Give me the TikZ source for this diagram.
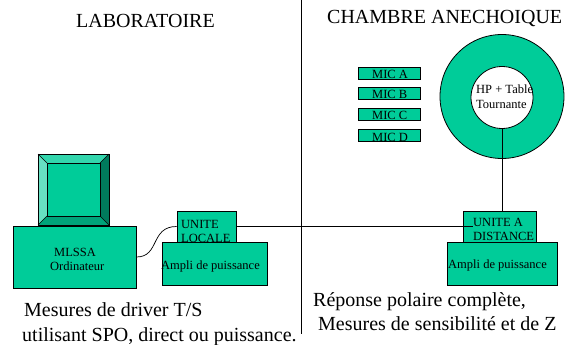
\documentclass[tikz,border=0pt]{standalone}
\usepackage{fontspec}
\setmainfont{Liberation Serif}
\definecolor{vert}{RGB}{0,204,153}
\definecolor{vertclair}{RGB}{102,224,194}
\definecolor{vertmoyen}{RGB}{51,214,173}
\definecolor{vertsombre}{RGB}{0,122,92}
\definecolor{vertbas}{RGB}{0,163,122}
\tikzset{
  boite/.style={draw, fill=vert, inner sep=0pt, line width=0.8pt},
  grand/.style={font=\fontsize{20}{24}\selectfont, inner sep=0pt, anchor=base west},
  petit/.style={font=\fontsize{12.5}{14}\selectfont, inner sep=0pt, anchor=base west},
  fil/.style={line width=0.7pt}
}
\begin{document}
\begin{tikzpicture}[x=1pt, y=-1pt]
\useasboundingbox (0,0) rectangle (568,345);

\node[grand] (labo) at (76,28) {LABORATOIRE};
\node[grand] (chambre) at (327,24) {CHAMBRE ANECHOIQUE};

\coordinate (hautsep) at (301,0);
\coordinate (bassep) at (301,334);
\draw[fil] (hautsep) -- (bassep);

% ecran
\fill[vertclair] (38,154) -- (47,163) -- (47,216) -- (38,225) -- cycle;
\fill[vertmoyen] (38,154) -- (109,154) -- (100,163) -- (47,163) -- cycle;
\fill[vertsombre] (109,154) -- (109,225) -- (100,216) -- (100,163) -- cycle;
\fill[vertbas] (38,225) -- (109,225) -- (100,216) -- (47,216) -- cycle;
\draw[fil] (38,154) rectangle (109,225);
\draw[fil, fill=vert] (47,163) rectangle (100,216);
\draw[fil] (38,154) -- (47,163);
\draw[fil] (109,154) -- (100,163);
\draw[fil] (38,225) -- (47,216);
\draw[fil] (109,225) -- (100,216);

\node[boite, minimum width=123pt, minimum height=62pt] (ordi) at (74.5,257) {};
\node[petit] (ordilabel1) at (54,256) {MLSSA};
\node[petit] (ordilabel2) at (50,270) {Ordinateur};

\node[boite, minimum width=59pt, minimum height=31pt] (locale) at (206.5,226.5) {};
\node[boite, minimum width=105pt, minimum height=43pt] (amplig) at (214.5,263.5) {};
\node[petit] (localelabel1) at (181,228) {UNITE};
\node[petit] (localelabel2) at (181,242) {LOCALE};
\node[petit] (ampliglabel) at (161,269) {Ampli de puissance};

\node[boite, minimum width=73pt, minimum height=31pt] (distance) at (499.5,226.5) {};
\node[boite, minimum width=110pt, minimum height=43pt] (amplid) at (502,263.5) {};
\node[petit] (distancelabel1) at (473,226) {UNITE A};
\node[petit] (distancelabel2) at (473,240) {DISTANCE};
\node[petit] (amplidlabel) at (448,268) {Ampli de puissance};

\coordinate (bout) at (473,226.5);
\draw[fil] (locale.east) -- (bout);
\draw[fil] (ordi.east) .. controls (160,257) and (150,226.5) .. (locale.west);

\node[boite, circle, minimum size=124pt] (anneau) at (502,96.5) {};
\node[draw, fill=white, circle, inner sep=0pt, line width=0.8pt, minimum size=62pt] (table) at (502,97.5) {};
\node[petit] (tablelabel1) at (476,94) {HP + Table};
\node[petit] (tablelabel2) at (476,109) {Tournante};
\draw[fil] (table.south) -- (table.south |- distance.north);

\node[boite, minimum width=62pt, minimum height=12pt] (mica) at (389,73) {};
\node[boite, minimum width=62pt, minimum height=12pt] (micb) at (389,93.5) {};
\node[boite, minimum width=62pt, minimum height=12pt] (micc) at (389,114.5) {};
\node[boite, minimum width=62pt, minimum height=12pt] (micd) at (389,135) {};
\node[petit] (micalabel) at (372,78) {MIC A};
\node[petit] (micblabel) at (372,99) {MIC B};
\node[petit] (micclabel) at (372,120) {MIC C};
\node[petit] (micdlabel) at (372,141) {MIC D};

\node[grand] (gauche1) at (24,316) {Mesures de driver T/S};
\node[grand] (gauche2) at (22,341) {utilisant SPO, direct ou puissance.};
\node[grand] (droite1) at (313,306) {Réponse polaire complète,};
\node[grand] (droite2) at (318,330) {Mesures de sensibilité et de Z};
\end{tikzpicture}
\end{document}
